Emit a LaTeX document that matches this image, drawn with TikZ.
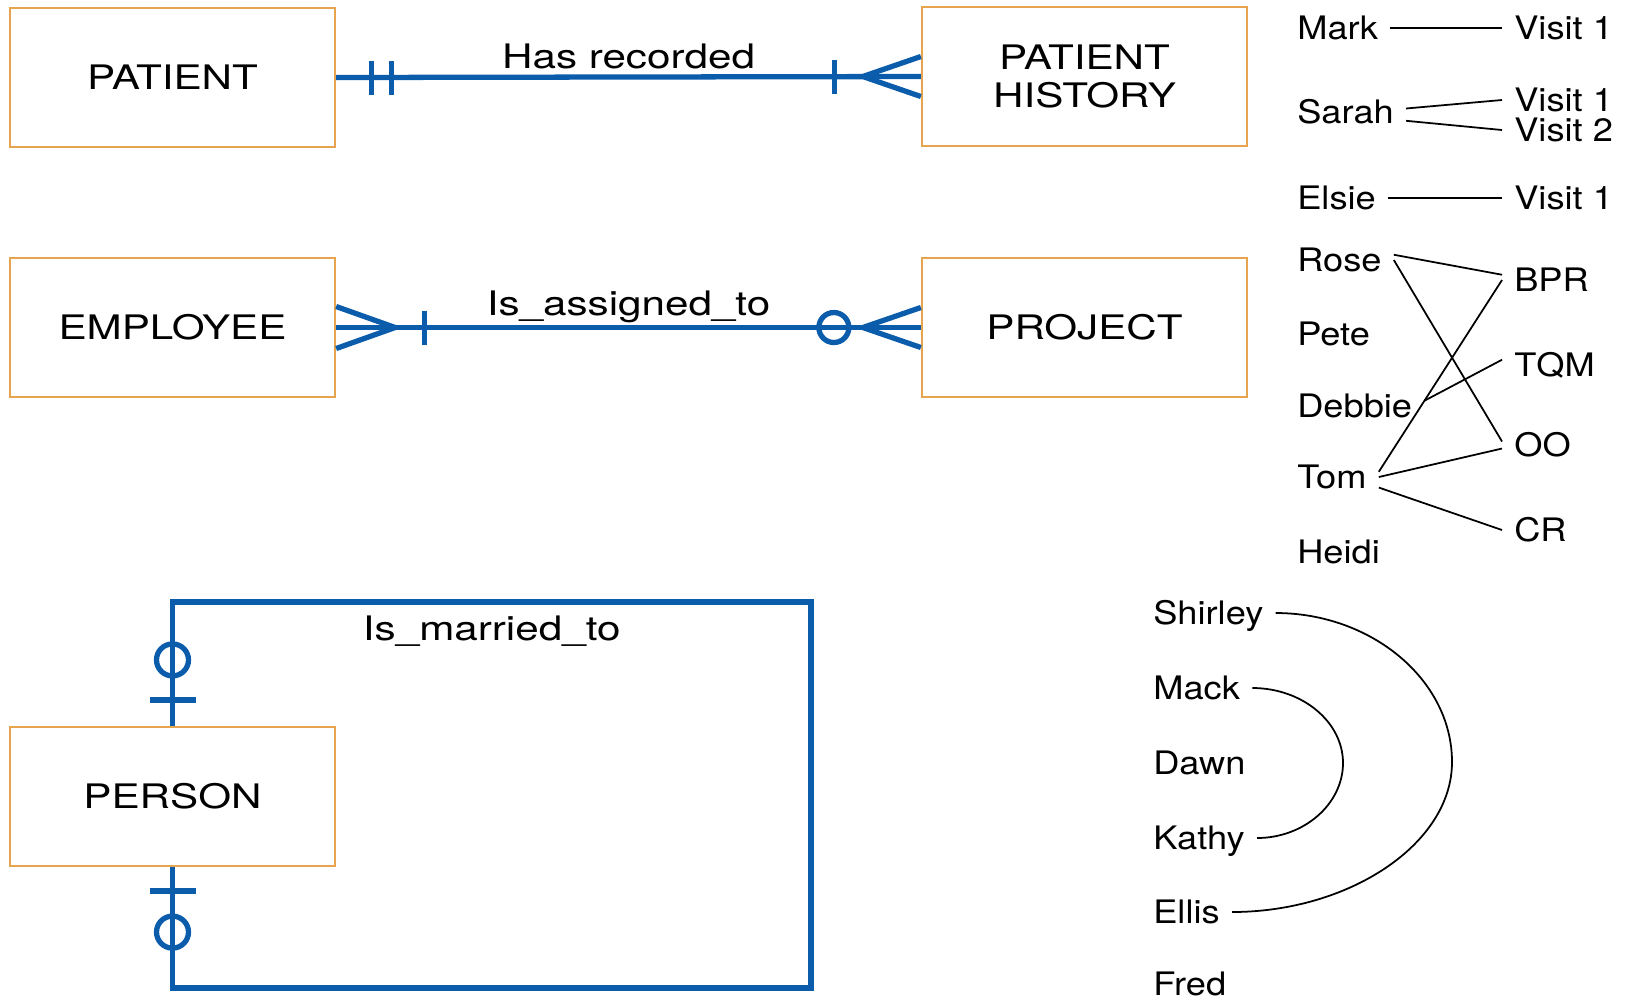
\documentclass[tikz,border=0pt]{standalone}
\usepackage{fontspec}
\setmainfont{TeX Gyre Heros}
\newfontfamily\anchafont[FakeStretch=1.25]{TeX Gyre Heros}
\newfontfamily\nomfont[FakeStretch=1.12]{TeX Gyre Heros}

\definecolor{azul}{RGB}{12,92,172}
\definecolor{naranja}{RGB}{230,164,78}

\tikzset{
  entidad/.style={draw=naranja, line width=0.6pt, minimum width=3.25cm, minimum height=1.39cm, align=center, font=\anchafont\fontsize{9.6}{10.7}\selectfont},
  rel/.style={draw=azul, line width=1.5pt},
  etiq/.style={inner sep=0pt, text height=6.9pt, text depth=0pt, font=\anchafont\fontsize{9.6}{11}\selectfont},
  nombre/.style={anchor=west, inner sep=1pt, outer sep=2.5pt, text height=6.6pt, text depth=0pt, font=\nomfont\fontsize{9.2}{11}\selectfont},
  enlace/.style={line width=0.5pt},
}

\begin{document}
\begin{tikzpicture}[x=0.01cm, y=-0.01cm]
    \useasboundingbox (0,0) rectangle (1627,999);

    % Dibuja las entidades
    \node[entidad] (pac) at (172.5,77.5) {PATIENT};
    \node[entidad] (hist) at (1084.5,76.5) {PATIENT\\HISTORY};
    \node[entidad] (emp) at (172.5,327.5) {EMPLOYEE};
    \node[entidad] (proy) at (1084.5,327.5) {PROJECT};
    \node[entidad] (pers) at (172.5,796.5) {PERSON};

    % Dibuja la relacion uno a muchos
    \draw[rel] (pac.east) -- (hist.west) node[midway, above=1.8pt, etiq] {Has recorded};
    \draw[rel] (pac.east) ++(35,-17) -- ++(0,34);
    \draw[rel] (pac.east) ++(55,-17) -- ++(0,34);
    \draw[rel] (hist.west) ++(-86,-17) -- ++(0,34);
    \draw[rel] (hist.west) ++(0,-20) -- ++(-58,20) -- ++(58,20);

    % Dibuja la relacion muchos a muchos
    \draw[rel] (emp.east) -- (proy.west) node[midway, above=2.6pt, etiq] {Is\_assigned\_to};
    \draw[rel] (emp.east) ++(0,-21) -- ++(59,21) -- ++(-59,21);
    \draw[rel] (emp.east) ++(88,-17) -- ++(0,34);
    \draw[rel] (proy.west) ++(-87,0) circle[radius=15];
    \draw[rel] (proy.west) ++(0,-20) -- ++(-58,20) -- ++(58,20);

    % Dibuja la relacion unaria
    \coordinate (esqA) at (811,602);
    \coordinate (esqB) at (811,988);
    \draw[rel] (pers.north) |- (esqA) node[pos=0.75, below=3.4pt, etiq] {Is\_married\_to} -- (esqB) -| (pers.south);
    \draw[rel] (pers.north) ++(0,-66) circle[radius=16];
    \draw[rel] (pers.north) ++(-23,-26) -- ++(46,0);
    \draw[rel] (pers.south) ++(-23,24) -- ++(46,0);
    \draw[rel] (pers.south) ++(0,65) circle[radius=16];

    % Pacientes y visitas
    \node[nombre] (mark) at (1285,28) {Mark};
    \node[nombre] (sarah) at (1285,112) {Sarah};
    \node[nombre] (elsie) at (1285,198) {Elsie};
    \node[nombre] (vA) at (1502,28) {Visit 1};
    \node[nombre] (vB) at (1502,100) {Visit 1};
    \node[nombre] (vC) at (1502,130) {Visit 2};
    \node[nombre] (vD) at (1502,198) {Visit 1};
    \draw[enlace] (mark) -- (vA);
    \draw[enlace] ([yshift=1pt]sarah.east) -- (vB.west);
    \draw[enlace] ([yshift=-2.5pt]sarah.east) -- (vC.west);
    \draw[enlace] (elsie) -- (vD);

    % Empleados y proyectos
    \node[nombre] (rose) at (1285,260) {Rose};
    \node[nombre] (pete) at (1285,334) {Pete};
    \node[nombre] (debbie) at (1285,406) {Debbie};
    \node[nombre] (tom) at (1285,477) {Tom};
    \node[nombre] (heidi) at (1285,552) {Heidi};
    \node[nombre] (bpr) at (1502,280) {BPR};
    \node[nombre] (tqm) at (1502,365) {TQM};
    \node[nombre] (oo) at (1502,445) {OO};
    \node[nombre] (cr) at (1502,530) {CR};
    \draw[enlace] ([yshift=1.5pt]rose.east) -- ([yshift=1.5pt]bpr.west);
    \draw[enlace] (rose.east) -- ([yshift=1pt]oo.west);
    \draw[enlace] ([yshift=1.5pt]debbie.east) -- ([yshift=1.5pt]tqm.west);
    \draw[enlace] ([yshift=1.5pt]tom.east) -- (bpr.west);
    \draw[enlace] (tom.east) -- ([yshift=-1pt]oo.west);
    \draw[enlace] ([yshift=-3pt]tom.east) -- (cr.west);

    % Personas casadas
    \node[nombre] (shirley) at (1141,613) {Shirley};
    \node[nombre] (mack) at (1141,688) {Mack};
    \node[nombre] (dawn) at (1141,763) {Dawn};
    \node[nombre] (kathy) at (1141,838) {Kathy};
    \node[nombre] (ellis) at (1141,912) {Ellis};
    \node[nombre] (fred) at (1141,984) {Fred};
    \draw[enlace] (shirley.east) .. controls +(96,0) and +(0,-82) .. (1452,762) .. controls +(0,82) and +(117,0) .. (ellis.east);
    \draw[enlace] (mack.east) .. controls +(50,0) and +(0,-41) .. (1343,763) .. controls +(0,41) and +(47,0) .. (kathy.east);
\end{tikzpicture}
\end{document}
